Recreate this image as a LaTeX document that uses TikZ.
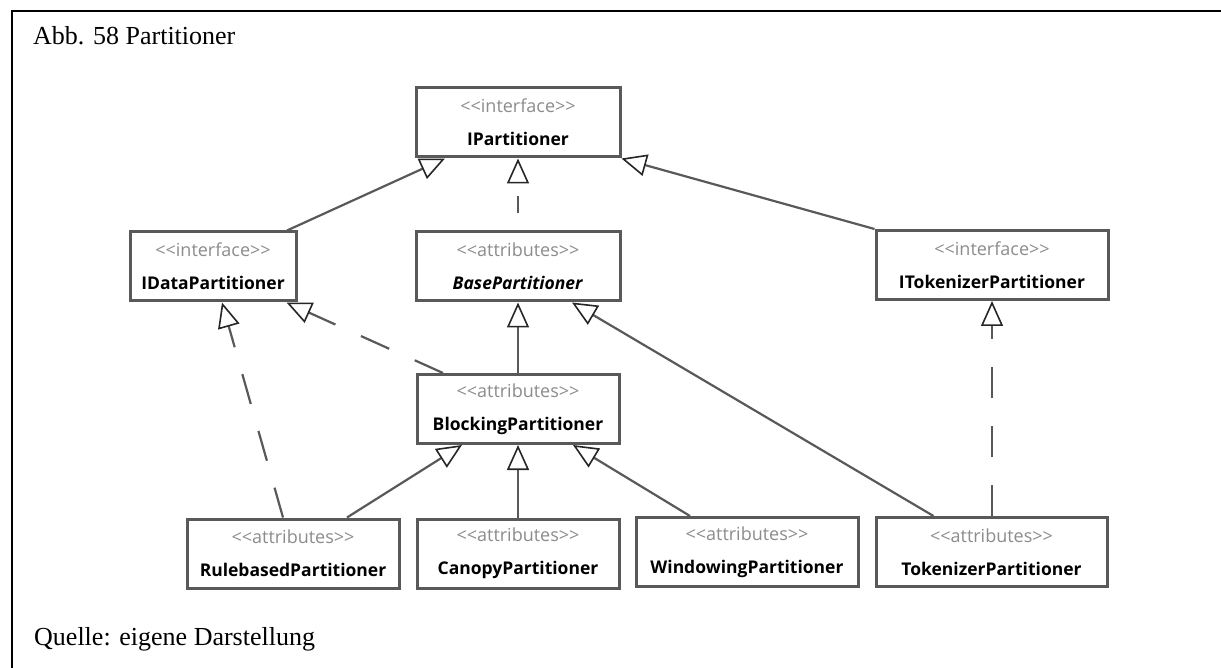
\documentclass[tikz,border=0pt]{standalone}
\usepackage{fontspec}
\setmainfont{Liberation Serif}
\newfontfamily\umlfont{Open Sans}
\usetikzlibrary{arrows.meta}

\definecolor{umlline}{HTML}{595959}
\definecolor{umlstereo}{HTML}{8C8C8C}

\tikzset{
  cls/.style={draw=umlline,line width=3pt,fill=white,minimum height=69pt,inner sep=0pt,
    align=center,font=\umlfont\fontsize{17.5}{33}\selectfont},
  gen/.style={color=umlline,line width=2.2pt,
    -{Triangle[length=25pt,width=22pt,fill=white,color=black!85,line width=1.6pt]}},
  real/.style={gen,dash pattern=on 31pt off 28pt},
  caption/.style={anchor=base west,inner sep=0pt,font=\fontsize{26}{30}\selectfont},
}
\newcommand{\stereo}[1]{{\color{umlstereo}\fontsize{18}{33}\selectfont<{}<#1>{}>}}

\begin{document}
\begin{tikzpicture}[x=1pt,y=-1pt]
  \useasboundingbox (0,0) rectangle (1221,668);
  \draw[line width=2pt] (12,668) -- (12,11) -- (1221,11);
  \node[caption] (title) at (33,45) {Abb. 58 Partitioner};
  \node[caption] (source) at (34,645) {Quelle: eigene Darstellung};

  % interfaces and classes
  \node[cls,minimum width=204pt] (ipart) at (518,122.5) {\stereo{interface}\\\textbf{IPartitioner}};
  \node[cls,minimum width=166pt] (idata) at (213,266.5) {\stereo{interface}\\\textbf{IDataPartitioner}};
  \node[cls,minimum width=204pt] (base)  at (518,266.5) {\stereo{attributes}\\\textbf{\textit{BasePartitioner}}};
  \node[cls,minimum width=232pt] (itok)  at (992,265)   {\stereo{interface}\\\textbf{ITokenizerPartitioner}};
  \node[cls,minimum width=202pt] (block) at (518,409)   {\stereo{attributes}\\\textbf{BlockingPartitioner}};
  \node[cls,minimum width=212pt] (rule)  at (293,553.5) {\stereo{attributes}\\\textbf{RulebasedPartitioner}};
  \node[cls,minimum width=202pt] (canopy) at (518,553.5) {\stereo{attributes}\\\textbf{CanopyPartitioner}};
  \node[cls,minimum width=222pt] (window) at (747,552) {\stereo{attributes}\\\textbf{WindowingPartitioner}};
  \node[cls,minimum width=231pt] (tok)   at (991.5,552) {\stereo{attributes}\\\textbf{TokenizerPartitioner}};

  % generalizations
  \path[gen] ([xshift=74pt]idata.north) edge ([xshift=-73pt]ipart.south);
  \path[gen] (itok.north west) edge (ipart.south east);
  \path[gen] (block.north) edge (base.south);
  \path[gen] ([xshift=54pt]rule.north) edge ([xshift=-56pt]block.south);
  \path[gen] (canopy.north) edge (block.south);
  \path[gen] ([xshift=-57pt]window.north) edge ([xshift=55pt]block.south);
  \path[gen] ([xshift=-58pt]tok.north) edge ([xshift=54pt]base.south);

  % realizations
  \path[real,dash pattern=on 17pt off 17pt,dash phase=17pt] (base.north) edge (ipart.south);
  \path[real] ([xshift=-75pt]block.north) edge ([xshift=-11pt]idata.south east);
  \path[real] ([xshift=-10pt]rule.north) edge ([xshift=9pt]idata.south);
  \path[real] ([xshift=0.5pt]tok.north) edge (itok.south);
\end{tikzpicture}
\end{document}
